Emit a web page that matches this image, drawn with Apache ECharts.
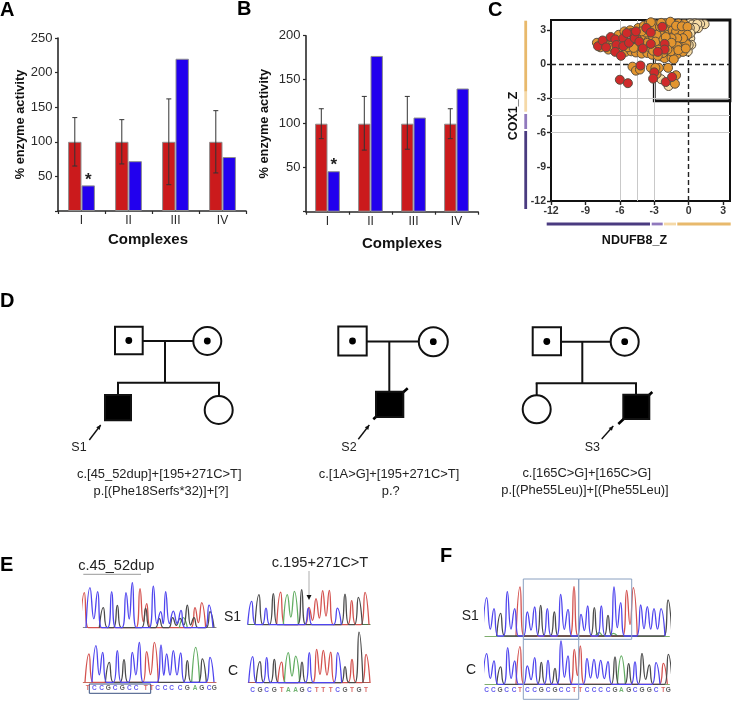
<!DOCTYPE html>
<html><head><meta charset="utf-8">
<style>html,body{margin:0;padding:0;background:#fff}#c{width:736px;height:701px}</style>
<script src="https://cdn.jsdelivr.net/npm/echarts@6/dist/echarts.min.js"></script>
</head><body><div id="c"></div>
<script>
// ---------- data: enzyme activity ----------
const complexes = ['I','II','III','IV'];
const aControl = [100,100,100,100];
const aPatient = [37,72,220,78];
const aErrLow = [65,68,38,55];
const aErrHigh = [135,132,162,145];
const bControl = [100,100,100,100];
const bPatient = [46,177,107,140];
const bErrLow = [83,70,71,83];
const bErrHigh = [117,131,131,117];
// ---------- data: NDUFB8_Z / COX1_Z ----------
const lightPts = [[1.39,3.53],[1.0,3.55],[0.55,3.6],[0.1,3.6],[0.81,3.18],[0.38,3.03],[-0.05,2.75],[0.14,2.3],[0.23,1.72],[-0.08,1.14],[0.3,3.5],[0.75,3.55],[0.55,3.2],[0.1,3.2],[0.15,2.75],[0.0,1.7],[-2.4,-1.3],[-1.75,-1.9]];
const orangePts = [[-8.0,1.9],[-7.7,1.5],[-7.0,1.3],[-6.6,1.5],[-6.0,1.2],[-5.5,1.1],[-5.0,1.15],[-4.6,1.05],[-4.1,0.95],[-3.6,1.0],[-3.2,0.85],[-7.2,2.0],[-6.7,2.2],[-6.1,2.6],[-5.6,2.9],[-5.1,3.0],[-4.4,3.2],[-3.9,3.4],[-3.5,3.55],[-3.1,3.6],[-4.9,2.0],[-4.4,1.7],[-5.3,1.5],[-4.8,1.45],[-4.2,2.6],[-3.8,2.4],[-3.5,2.1],[-3.1,2.3],[-3.4,1.5],[-2.9,1.6],[-3.0,3.1],[-2.7,3.5],[-2.6,2.9],[-2.5,2.4],[-2.4,1.9],[-2.2,2.8],[-2.0,3.6],[-1.9,3.2],[-1.8,2.6],[-1.7,2.1],[-1.6,1.6],[-1.9,1.0],[-1.5,3.5],[-1.4,3.0],[-1.3,2.5],[-1.2,1.9],[-1.2,1.3],[-1.0,0.9],[-2.4,0.7],[-2.1,0.55],[-1.5,0.6],[-1.3,0.45],[-0.9,3.6],[-0.85,3.15],[-0.8,2.6],[-0.75,2.1],[-0.7,1.55],[-0.5,1.1],[-0.4,3.55],[-0.35,3.0],[-0.3,2.3],[-0.2,1.8],[-3.2,3.2],[-2.8,2.6],[-2.9,2.0],[-2.0,1.5],[-1.55,1.15],[-3.9,1.7],[-2.2,2.2],[-1.1,2.9],[-0.55,2.7],[-2.6,1.3],[-4.9,-0.2],[-4.6,-0.55],[-4.25,-0.45],[-3.3,-0.3],[-2.8,-0.85],[-2.6,-0.3],[-1.8,-0.3],[-1.1,-0.95],[-1.2,-1.7],[-2.9,-0.3],[-2.5,3.3],[-1.6,3.75],[-1.1,3.4],[-0.6,3.35],[-0.1,3.3],[-0.1,2.6],[-0.5,2.3],[-1.0,2.3],[-1.5,2.3],[-2.0,2.4],[-1.0,1.6],[-1.5,1.9],[-1.85,1.3],[-0.9,1.25],[-0.25,1.4],[-2.25,1.0],[-2.7,0.75],[-3.1,1.2],[-3.6,1.9],[-3.7,2.8],[-4.1,2.9],[-4.7,2.65],[-2.4,3.65],[-3.3,3.7]];
const redPts = [[-7.9,1.6],[-7.5,2.1],[-7.2,1.5],[-6.8,2.4],[-6.4,2.2],[-6.3,1.7],[-6.4,1.1],[-5.9,0.75],[-5.7,2.3],[-5.7,1.6],[-5.2,1.9],[-5.0,2.75],[-5.4,2.75],[-4.7,2.3],[-4.6,2.9],[-4.3,2.0],[-4.0,1.4],[-3.7,3.2],[-3.3,2.8],[-3.3,1.8],[-2.3,3.3],[-2.1,1.8],[-2.1,1.3],[-2.7,1.1],[-4.2,-0.1],[-6.0,-1.35],[-5.3,-1.65],[-3.0,-0.7],[-3.1,-1.25],[-2.0,-1.55],[-1.45,-1.1]];
// ---------- data: sequence traces, peaks as [position, height] per base colour ----------
const e1sBlue=[[270,120],[293,108],[335,108],[378,105],[397,135],[460,125],[482,48],[497,108],[520,50],[543,52],[627,68]];
const e1sBlack=[[310,60],[352,67],[437,58],[478,27],[518,30],[540,28],[562,68],[582,30],[630,48]];
const e1sRed=[[253,105],[420,117],[440,72],[585,60],[605,75]];
const e1sGreen=[[550,30]];
const e1cBlue=[[288,110],[308,90],[352,95],[397,90],[418,120],[483,112],[500,85],[520,95],[542,88],[630,75]];
const e1cBlack=[[328,60],[372,68],[562,65],[607,70]];
const e1cRed=[[267,85],[440,92],[463,120]];
const e1cGreen=[[587,105]];
const e2sBlue=[[65,70],[108,50],[235,50],[322,50]];
const e2sBlack=[[87,90],[130,93],[215,105],[345,92],[385,82]];
const e2sRed=[[152,98],[237,52],[258,78],[278,102],[298,103],[365,72],[405,97]];
const e2sGreen=[[172,90],[193,100]];
const e2cBlue=[[68,78],[110,75],[238,90],[323,90]];
const e2cBlack=[[90,63],[133,70],[216,62],[345,48],[387,152]];
const e2cRed=[[155,62],[260,100],[280,97],[302,92],[366,70],[408,85]];
const e2cGreen=[[175,90],[197,80]];
const fsBlue=[[140,115],[162,82],[202,133],[224,82],[262,72],[284,87],[322,82],[362,125],[384,80],[423,65],[443,90],[484,90],[522,147],[542,100],[602,93],[622,88],[642,82],[663,82]];
const fsBlack=[[182,68],[302,92],[343,72],[463,85],[504,62],[684,108]];
const fsRed=[[240,147],[402,148],[560,137],[580,145]];
const fsGreen=[[478,10],[520,8]];
const fcBlue=[[140,92],[162,70],[203,110],[224,70],[262,55],[284,80],[324,72],[363,130],[384,85],[441,78],[462,75],[482,72],[504,68],[585,67],[648,65]];
const fcBlack=[[182,52],[304,66],[345,48],[525,82],[566,62],[606,93],[628,58],[685,90]];
const fcRed=[[240,113],[403,105],[421,115],[670,63]];
const fcGreen=[[544,85]];
// base calls: letters and positions
const e1Letters='TCCGCGCCTTCCCCGAGCG'.split('');
const e1LetterPos=[263,283,305,325,345,367,388,408,437,455,473,495,515,540,562,585,605,627,643];
const e2Letters='CGCGTAAGCTTTCGTGT'.split('');
const e2LetterPos=[68,90,110,133,155,175,197,216,238,260,280,302,323,345,366,387,408];
const fLetters='CCGCCTCCGCGCCTTCCCCGAGCGGCTG'.split('');
const fLetterPos=[140,160,180,200,222,240,262,284,304,324,345,363,384,403,421,441,462,482,504,525,544,566,585,606,628,648,670,685];

// ---------- drawing ----------
const FONT='"Liberation Sans",Arial,sans-serif';
const grid=[],xAxis=[],yAxis=[],series=[],graphic=[];
const TC={blue:'#4f45ee',black:'#4a4a4a',red:'#d4524f',green:'#62ad62',
  A:'#4fa04f',C:'#3a30e8',G:'#333333',T:'#d0403c'};

function barPanel(o){
  const k=grid.length;
  grid.push({left:o.left,top:o.top,width:o.width,height:o.height});
  xAxis.push({gridIndex:k,type:'category',data:complexes,
    axisLine:{lineStyle:{color:'#2a2a2a',width:1.6}},
    axisTick:{show:true,length:3,lineStyle:{color:'#2a2a2a',width:1.2}},
    axisLabel:{color:'#2a2a2a',fontFamily:FONT,fontSize:12,margin:4},
    name:'Complexes',nameLocation:'middle',nameGap:o.nameGap,
    nameTextStyle:{color:'#111',fontFamily:FONT,fontWeight:'bold',fontSize:15,padding:o.namePad}});
  yAxis.push({gridIndex:k,type:'value',min:0,max:o.max,interval:50,
    axisLine:{show:true,lineStyle:{color:'#2a2a2a',width:1.6}},
    axisTick:{show:true,length:3,lineStyle:{color:'#2a2a2a',width:1.2}},
    splitLine:{show:false},
    axisLabel:{color:'#2a2a2a',fontFamily:FONT,fontSize:13,margin:5.5,formatter:v=>v===0?'':String(v)},
    name:'% enzyme activity',nameLocation:'middle',nameGap:o.yGap,nameRotate:90,
    nameTextStyle:{color:'#111',fontFamily:FONT,fontWeight:'bold',fontSize:12.8}});
  const bw=o.barW, bb={borderColor:'#8f8f8f',borderWidth:1};
  series.push({type:'bar',xAxisIndex:k,yAxisIndex:k,data:o.control,barWidth:bw,barGap:'0%',
    itemStyle:Object.assign({color:'#cb1a1c'},bb)});
  series.push({type:'bar',xAxisIndex:k,yAxisIndex:k,barWidth:bw,barGap:'0%',
    data:o.patient.map((v,i)=>i===0?{value:v,label:{show:true,position:'top',distance:-3,formatter:'*',
      color:'#222',fontFamily:FONT,fontSize:17,fontWeight:'bold'}}:v),
    itemStyle:Object.assign({color:'#2200ee'},bb)});
  series.push({type:'custom',xAxisIndex:k,yAxisIndex:k,z:5,
    data:o.low.map((l,i)=>[i,l,o.high[i]]),encode:{x:0,y:[1,2]},
    renderItem:(p,api)=>{
      const a=api.coord([api.value(0),api.value(1)]),b=api.coord([api.value(0),api.value(2)]);
      const x=a[0]-bw/2,st={stroke:'#333',lineWidth:1};
      return {type:'group',children:[
        {type:'line',shape:{x1:x,y1:a[1],x2:x,y2:b[1]},style:st},
        {type:'line',shape:{x1:x-2.5,y1:a[1],x2:x+2.5,y2:a[1]},style:st},
        {type:'line',shape:{x1:x-2.5,y1:b[1],x2:x+2.5,y2:b[1]},style:st}]};
    }});
}
barPanel({left:58,top:38,width:188,height:173,max:250,control:aControl,patient:aPatient,low:aErrLow,high:aErrHigh,barW:13.4,nameGap:21,namePad:[0,8,0,0],yGap:30});
barPanel({left:306,top:35.7,width:172,height:176,max:200,control:bControl,patient:bPatient,low:bErrLow,high:bErrHigh,barW:12.4,nameGap:25,namePad:[0,0,0,20],yGap:35});

// panel C
(function(){
  const k=grid.length;
  grid.push({left:551,top:20,width:179,height:181,show:true,borderColor:'#111',borderWidth:2,backgroundColor:'transparent'});
  const ax={axisLine:{show:false,onZero:false},axisTick:{show:true,length:4,lineStyle:{color:'#222',width:1.4}},splitLine:{show:false},
    axisLabel:{color:'#333',fontFamily:FONT,fontWeight:'bold',fontSize:10.5,margin:5}};
  xAxis.push(Object.assign({gridIndex:k,type:'value',min:-12,max:3.6,interval:3,name:'NDUFB8_Z',nameLocation:'middle',nameGap:33,
    nameTextStyle:{color:'#111',fontFamily:FONT,fontWeight:'bold',fontSize:12.5,padding:[0,12,0,0]}},ax));
  yAxis.push(Object.assign({gridIndex:k,type:'value',min:-12,max:3.9,interval:3,name:'COX1_Z',nameLocation:'middle',nameGap:31,nameRotate:90,
    nameTextStyle:{color:'#111',fontFamily:FONT,fontWeight:'bold',fontSize:12.5,padding:[0,11,0,0]}},ax));
  const grey={color:'#c9c9c9',width:1,type:'solid'}, dash={color:'#222',width:1.4,type:[5,3]};
  const ml=(axis,v,st)=>({[axis]:v,lineStyle:st});
  series.push({type:'scatter',xAxisIndex:k,yAxisIndex:k,data:[],z:1,silent:true,
    markLine:{z:1,silent:true,symbol:'none',label:{show:false},animation:false,
      data:[ml('xAxis',-6,grey),ml('xAxis',-4.5,grey),ml('xAxis',-3,grey),ml('yAxis',-3,grey),ml('yAxis',-4.5,grey),ml('yAxis',-6,grey),ml('xAxis',0,dash),ml('yAxis',0,dash)]},
    markArea:{z:1,silent:true,animation:false,itemStyle:{color:'rgba(0,0,0,0)',borderColor:'#111',borderWidth:2.8},
      data:[[{coord:[-3,4.05]},{coord:[3.6,-3.2]}]]}});
  const pts=(d,c,z)=>series.push({type:'scatter',xAxisIndex:k,yAxisIndex:k,data:d,clip:false,z:z,symbolSize:9,
    itemStyle:{color:c,borderColor:'#5a4f40',borderWidth:1,opacity:1}});
  pts(lightPts,'#f6dca6',2); pts(orangePts,'#e2952f',3); pts(redPts,'#cf2a2a',4);
})();

// sequence panels: peak apexes joined with valleys, rounded by the line's smoothing
function peakLine(peaks){
  const s=peaks.slice().sort((a,b)=>a[0]-b[0]),out=[[s[0][0]-12,0]];
  s.forEach((p,i)=>{
    out.push([p[0],p[1]]);
    const n=s[i+1];
    if(!n){out.push([p[0]+12,0]);return;}
    if(n[0]-p[0]<=26){out.push([(p[0]+n[0])/2,Math.min(p[1],n[1])*0.25]);}
    else{out.push([p[0]+12,0],[n[0]-12,0]);}
  });
  return out;
}
function trace(o){
  const k=grid.length;
  grid.push({left:o.ox+o.zl/3,width:(o.zr-o.zl)/3,top:o.base-160/3,height:195/3});
  xAxis.push({gridIndex:k,type:'value',min:o.zl,max:o.zr,splitLine:{show:false},axisTick:{show:false},axisLabel:{show:false},
    axisLine:{show:true,onZero:true,lineStyle:{color:o.baseColor,width:1.2}}});
  yAxis.push({gridIndex:k,type:'value',min:-35,max:160,show:false,splitLine:{show:false}});
  [['red',o.red],['green',o.green],['black',o.black],['blue',o.blue]].forEach(([c,d])=>{
    series.push({type:'line',xAxisIndex:k,yAxisIndex:k,data:peakLine(d),smooth:0.5,showSymbol:false,symbol:'none',
      lineStyle:{color:TC[c],width:1.3},z:3});
  });
  if(o.letters){
    series.push({type:'scatter',xAxisIndex:k,yAxisIndex:k,symbolSize:0,z:4,silent:true,
      data:o.letters.map((l,i)=>({value:[o.pos[i],o.ly],name:l,
        label:{show:true,position:'inside',formatter:l,color:TC[l],fontFamily:FONT,fontSize:6.5,fontWeight:'bold'}}))});
  }
}
trace({ox:0,zl:250,zr:648,base:627.7,baseColor:'#888',blue:e1sBlue,black:e1sBlack,red:e1sRed,green:e1sGreen});
trace({ox:0,zl:250,zr:648,base:682.3,baseColor:'#c96a5e',blue:e1cBlue,black:e1cBlack,red:e1cRed,green:e1cGreen,letters:e1Letters,pos:e1LetterPos,ly:-19});
trace({ox:230,zl:55,zr:420,base:624.7,baseColor:'#4f7a4f',blue:e2sBlue,black:e2sBlack,red:e2sRed,green:e2sGreen});
trace({ox:230,zl:55,zr:420,base:682.7,baseColor:'#b05a50',blue:e2cBlue,black:e2cBlack,red:e2cRed,green:e2cGreen,letters:e2Letters,pos:e2LetterPos,ly:-22});
trace({ox:440,zl:135,zr:688,base:636,baseColor:'#7fae6e',blue:fsBlue,black:fsBlack,red:fsRed,green:fsGreen});
trace({ox:440,zl:135,zr:688,base:684.3,baseColor:'#7fae6e',blue:fcBlue,black:fcBlack,red:fcRed,green:fcGreen,letters:fLetters,pos:fLetterPos,ly:-17});

// graphic annotations
const LW=2;
const line=(x1,y1,x2,y2,c,w,cap)=>graphic.push({type:'line',silent:true,shape:{x1,y1,x2,y2},style:{stroke:c||'#111',lineWidth:w||LW,lineCap:cap||'butt'}});
const text=(x,y,s,size,opt)=>graphic.push({type:'text',silent:true,x,y,style:Object.assign({text:s,fontFamily:FONT,fontSize:size,fill:'#222',textAlign:'center',textVerticalAlign:'middle'},opt||{})});
const square=(x1,y1,x2,y2,filled)=>graphic.push({type:'rect',silent:true,z:2,shape:{x:x1,y:y1,width:x2-x1,height:y2-y1},style:{fill:filled?'#000':'#fff',stroke:'#111',lineWidth:LW}});
const circle=(cx,cy,r)=>graphic.push({type:'circle',silent:true,z:2,shape:{cx,cy,r},style:{fill:'#fff',stroke:'#111',lineWidth:LW}});
const dot=(cx,cy)=>graphic.push({type:'circle',silent:true,z:3,shape:{cx,cy,r:3.4},style:{fill:'#000'}});
const arrow=(x1,y1,x2,y2)=>{line(x1,y1,x2,y2,'#111',1.4);
  const a=Math.atan2(y2-y1,x2-x1),l=5,s=0.45;
  graphic.push({type:'polygon',silent:true,shape:{points:[[x2,y2],[x2-l*Math.cos(a-s),y2-l*Math.sin(a-s)],[x2-l*Math.cos(a+s),y2-l*Math.sin(a+s)]]},style:{fill:'#111'}});};

[['A',0,10],['B',237,9],['C',488,10],['D',0,301],['E',0,565],['F',440,556]].forEach(p=>
  text(p[1],p[2],p[0],20,{fontWeight:'bold',fill:'#000',textAlign:'left'}));

// pedigree 1
line(142.7,341,193,341);line(165,341,165,382.7);line(117,382.7,220,382.7);line(118,382.7,118,395);line(219,382.7,219,396);
square(115,326.7,142.7,354.3);dot(128.8,340.5);circle(207.3,341,14);dot(207.3,341);
square(105,395,131,420.3,true);circle(218.7,410,14);arrow(89.3,440,100.7,425);text(79,447.7,'S1',12.5);
text(159.3,474.3,'c.[45_52dup]+[195+271C>T]',12.9);text(161,491,'p.[(Phe18Serfs*32)]+[?]',12.9);
// pedigree 2
line(366.7,341.5,419,341.5);line(389.3,341.5,389.3,391.7);
square(338.3,326.5,366.7,355.5);dot(352.5,341);circle(433.3,341.7,14.5);dot(433.3,341.7);
square(376,391.7,403.3,417,true);line(373.3,419.3,407.7,388.3,'#000',2.6);arrow(358.3,439.3,369.3,425);text(349,447.7,'S2',12.5);
text(389,474.3,'c.[1A>G]+[195+271C>T]',12.9);text(390.7,491,'p.?',12.9);
// pedigree 3
line(561,341.7,611,341.7);line(582.3,341.7,582.3,383.3);line(535.7,383.3,637,383.3);line(536.7,383.3,536.7,395.3);line(636,383.3,636,394.7);
square(532.7,327.3,561,355.3);dot(546.8,341.5);circle(624.7,341.7,14);dot(624.7,341.7);
circle(536.7,409.3,14);square(623.3,394.7,649.3,419,true);line(618.3,424,652.3,392,'#000',2.6);arrow(601.7,439,613.3,426);text(592.3,447.7,'S3',12.5);
text(586.7,473.7,'c.[165C>G]+[165C>G]',12.9);text(585,490,'p.[(Phe55Leu)]+[(Phe55Leu)]',12.9);

// panel C margin strips
[[525.7,20.7,525.7,91.7,'#e8b96c'],[525.7,91.7,525.7,111.7,'#f5d9a8'],[525.7,114,525.7,129,'#9079bd'],[525.7,131,525.7,209,'#4a3b80'],
 [546.7,224,650,224,'#4a3b80'],[651.7,224,662.7,224,'#9079bd'],[664,224,676,224,'#f5d9a8'],[677.3,224,730.7,224,'#e8b96c']]
 .forEach(s=>line(s[0],s[1],s[2],s[3],s[4],2.8));
line(547,116,551,116,'#222',1.4);

// panels E, F annotations
text(116.3,565.7,'c.45_52dup',14.6);line(83.3,574.3,141,574.3,'#999',1);
text(224,616.7,'S1',14,{textAlign:'left'});text(228,670.7,'C',14,{textAlign:'left'});
graphic.push({type:'rect',silent:true,shape:{x:89.3,y:684,width:61.4,height:9.3},style:{fill:'none',stroke:'#3a5080',lineWidth:1}});
text(320,563.3,'c.195+271C>T',14.6);line(309,571,309,595,'#bbb',1.2);
graphic.push({type:'polygon',silent:true,shape:{points:[[306.5,595],[311.5,595],[309,600]]},style:{fill:'#111'}});
text(461.7,616,'S1',14,{textAlign:'left'});text(466,670,'C',14,{textAlign:'left'});
[[523.3,579,55.4,60.3],[578.7,579,53,60.3],[523.3,639.3,55.4,60]].forEach(b=>
  graphic.push({type:'rect',silent:true,z:5,shape:{x:b[0],y:b[1],width:b[2],height:b[3]},style:{fill:'none',stroke:'#8aa0c0',lineWidth:1}}));

const chart=echarts.init(document.getElementById('c'),null,{renderer:'canvas'});
chart.setOption({animation:false,backgroundColor:'#fff',textStyle:{fontFamily:FONT},grid,xAxis,yAxis,series,graphic:{elements:graphic}});
</script></body></html>
